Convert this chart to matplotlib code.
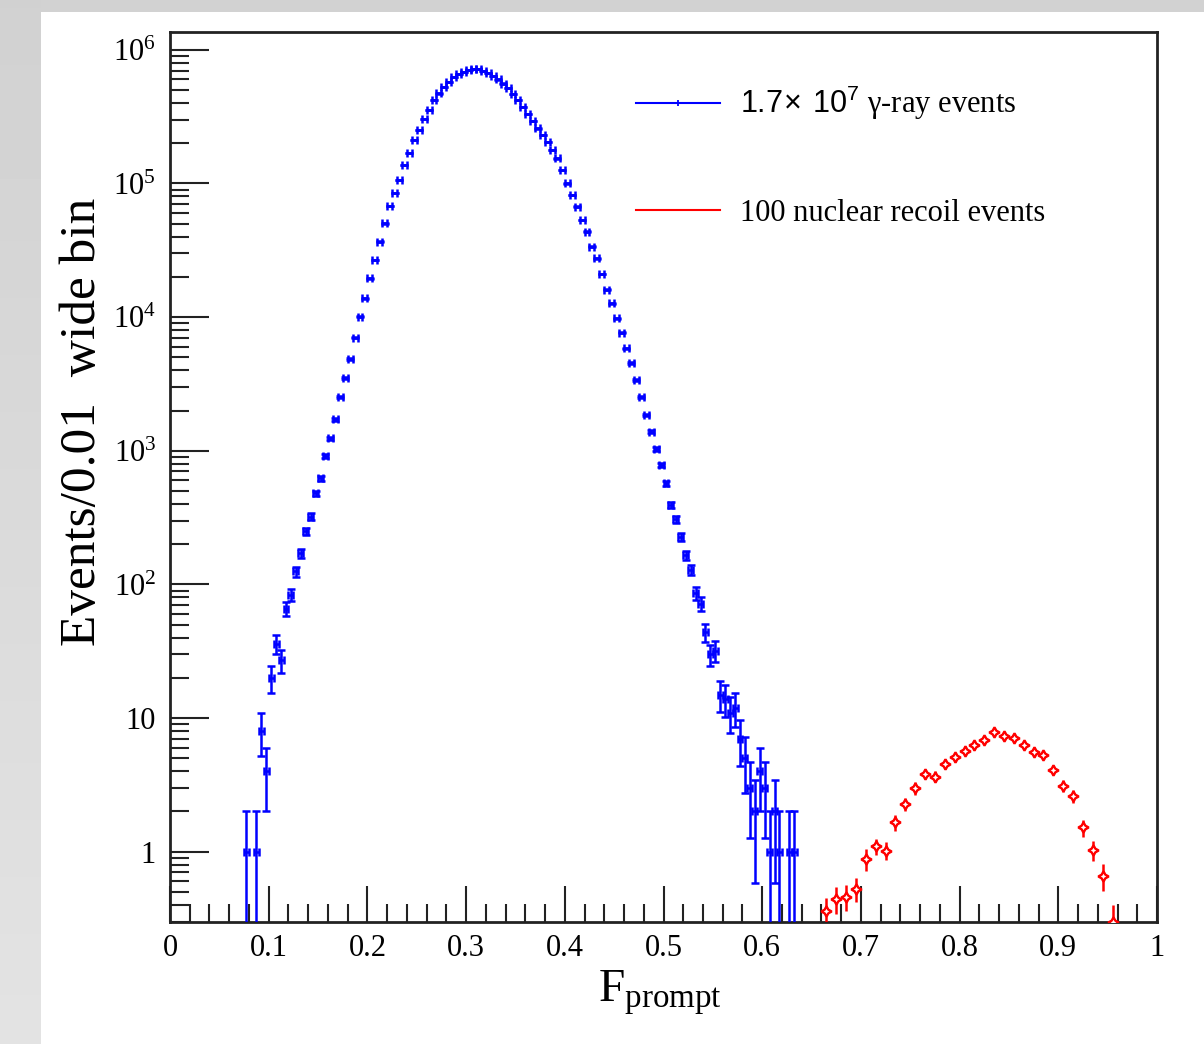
import numpy as np
import matplotlib
matplotlib.use('Agg')
import matplotlib.pyplot as plt
from matplotlib.patches import Rectangle
from matplotlib.lines import Line2D
from matplotlib.ticker import MultipleLocator, LogLocator, FixedLocator, FuncFormatter, NullFormatter

plt.rcParams['font.family'] = 'Liberation Serif'
plt.rcParams['mathtext.fontset'] = 'custom'
plt.rcParams['mathtext.rm'] = 'Liberation Serif'
plt.rcParams['mathtext.it'] = 'Liberation Serif:italic'
plt.rcParams['mathtext.bf'] = 'Liberation Serif:bold'
plt.rcParams['mathtext.sf'] = 'Liberation Sans'

######################################
# gamma-ray Fprompt histogram, 0.005 wide bins starting at 0.075
gammaFirstEdge = 0.075
gammaBinWidth = 0.005
gammaCounts = [1, 0, 1, 8, 4, 20, 36, 27, 66, 84,
               125, 171, 249, 322, 482, 624, 916, 1242, 1722, 2540,
               3490, 4870, 7030, 10090, 13840, 19540, 26800, 36700, 50400, 67900,
               84500, 106000, 137000, 170000, 211000, 251000, 302000, 354000, 421000, 472000,
               529000, 577000, 622000, 659000, 686000, 706000, 714000, 714000, 697000, 673000,
               636000, 600000, 560000, 515000, 467000, 421000, 375000, 330000, 294000, 258000,
               230000, 205000, 178000, 154000, 126000, 100000, 81700, 67100, 53300, 43700,
               33700, 27500, 21000, 16000, 12700, 9820, 7660, 5850, 4520, 3390,
               2520, 1850, 1390, 1030, 785, 573, 394, 308, 228, 166,
               129, 86, 72, 44, 30, 32, 15, 14, 11, 12,
               7, 5, 3, 2, 4, 3, 1, 2, 1, 0,
               1, 1]

# nuclear recoil histogram, 0.01 wide bins starting at 0.66
nrFirstEdge = 0.66
nrBinWidth = 0.01
nrCounts = [0.36, 0.44, 0.46, 0.53, 0.88, 1.10, 1.02, 1.66, 2.27, 2.99,
            3.83, 3.65, 4.55, 5.10, 5.72, 6.24, 6.88, 7.86, 7.38, 7.08,
            6.31, 5.62, 5.31, 4.10, 3.12, 2.59, 1.52, 1.03, 0.66, 0.30]
nrErrors = [0.09, 0.10, 0.10, 0.11, 0.16, 0.15, 0.16, 0.22, 0.27, 0.31,
            0.35, 0.34, 0.38, 0.40, 0.43, 0.45, 0.47, 0.50, 0.49, 0.48,
            0.45, 0.43, 0.41, 0.36, 0.32, 0.29, 0.22, 0.18, 0.15, 0.10]

yDecades = [1, 10, 1e2, 1e3, 1e4, 1e5, 1e6]
gammaLabel = r'$\mathsf{1.7\!\times\ 10^{7}}$ γ-ray events'
nrLabel = '100 nuclear recoil events'
######################################

W, H = 1204, 1044
fig = plt.figure(figsize=(W / 100, H / 100), dpi=100)
fig.patch.set_facecolor('#d2d2d2')

#### slide background: grey strip on the left, white page
strip = fig.add_axes([0, 0, 41 / W, 1])
strip.set_zorder(-2)
grad = np.linspace(0.82, 0.89, 256).reshape(-1, 1)
strip.imshow(grad, aspect='auto', cmap='gray', vmin=0, vmax=1, extent=(0, 1, 0, 1))
strip.axis('off')
fig.patches.append(Rectangle((41 / W, 0), 1 - 41 / W, (H - 12) / H,
                             transform=fig.transFigure, facecolor='white',
                             edgecolor='none', zorder=-1))

ax = fig.add_axes([170 / W, (H - 922) / H, 987 / W, 890 / H])
ax.set_zorder(1)
ax.set_facecolor('white')

#### gamma points
gCounts = np.array(gammaCounts, dtype=float)
gCenters = gammaFirstEdge + gammaBinWidth * (np.arange(len(gCounts)) + 0.5)
keep = gCounts > 0
ax.errorbar(gCenters[keep], gCounts[keep], yerr=np.sqrt(gCounts[keep]),
            xerr=gammaBinWidth / 2, fmt='none', ecolor='#0000ff',
            elinewidth=1.8, capsize=2.6, capthick=1.8, zorder=3)

#### nuclear recoil points
nCounts = np.array(nrCounts)
nCenters = nrFirstEdge + nrBinWidth * (np.arange(len(nCounts)) + 0.5)
ax.errorbar(nCenters, nCounts, yerr=nrErrors, fmt='', linestyle='none',
            marker=(4, 1, 0), color='#ff0000',
            ecolor='#ff0000', elinewidth=1.8, capsize=0, markersize=7.5,
            markerfacecolor='white', markeredgecolor='#ff0000',
            markeredgewidth=1.7, zorder=3)

#### axes
ax.set_xlim(0, 1)
ax.set_yscale('log')
ax.set_ylim(0.298, 1.36e6)

ax.xaxis.set_major_locator(MultipleLocator(0.1))
ax.xaxis.set_minor_locator(MultipleLocator(0.02))
ax.xaxis.set_major_formatter(FuncFormatter(lambda v, p: '%g' % round(v, 2)))
ax.yaxis.set_major_locator(FixedLocator(yDecades))
ax.yaxis.set_minor_locator(LogLocator(base=10, subs=np.arange(2, 10), numticks=20))
ax.yaxis.set_minor_formatter(NullFormatter())

def yFormat(v, pos):
    e = int(round(np.log10(v)))
    if e == 0:
        return '1'
    if e == 1:
        return '10'
    return r'$10^{%d}$' % e
ax.yaxis.set_major_formatter(FuncFormatter(yFormat))

ax.tick_params(axis='both', which='both', direction='in', top=False, right=False,
               color='#222222', width=1.5, labelsize=22)
ax.tick_params(axis='x', which='major', length=26, pad=9)
ax.tick_params(axis='x', which='minor', length=13)
ax.tick_params(axis='y', which='major', length=28, pad=10)
ax.tick_params(axis='y', which='minor', length=14)
for s in ax.spines.values():
    s.set_linewidth(2)
    s.set_color('#222222')

ax.set_ylabel('Events/0.01  wide bin', fontsize=37, va='center')
ax.yaxis.set_label_coords(-0.088, 0.562)
ax.set_xlabel(r'F$_{\mathrm{prompt}}$', fontsize=34, va='top')
ax.xaxis.set_label_coords(0.496, -0.052)

#### legend
hGamma = Line2D([], [], color='#0000ff', lw=1.5, marker='|', markersize=5, markeredgewidth=1.3)
hNr = Line2D([], [], color='#ff0000', lw=1.5)
ax.legend([hGamma, hNr], [gammaLabel, nrLabel], loc='upper left',
          bbox_to_anchor=(636 / W, (H - 84) / H), bbox_transform=fig.transFigure,
          frameon=False, fontsize=22, handlelength=2.75, handletextpad=0.65,
          labelspacing=2.5, borderpad=0, borderaxespad=0)

fig.savefig('out.png', dpi=100, facecolor=fig.get_facecolor())
